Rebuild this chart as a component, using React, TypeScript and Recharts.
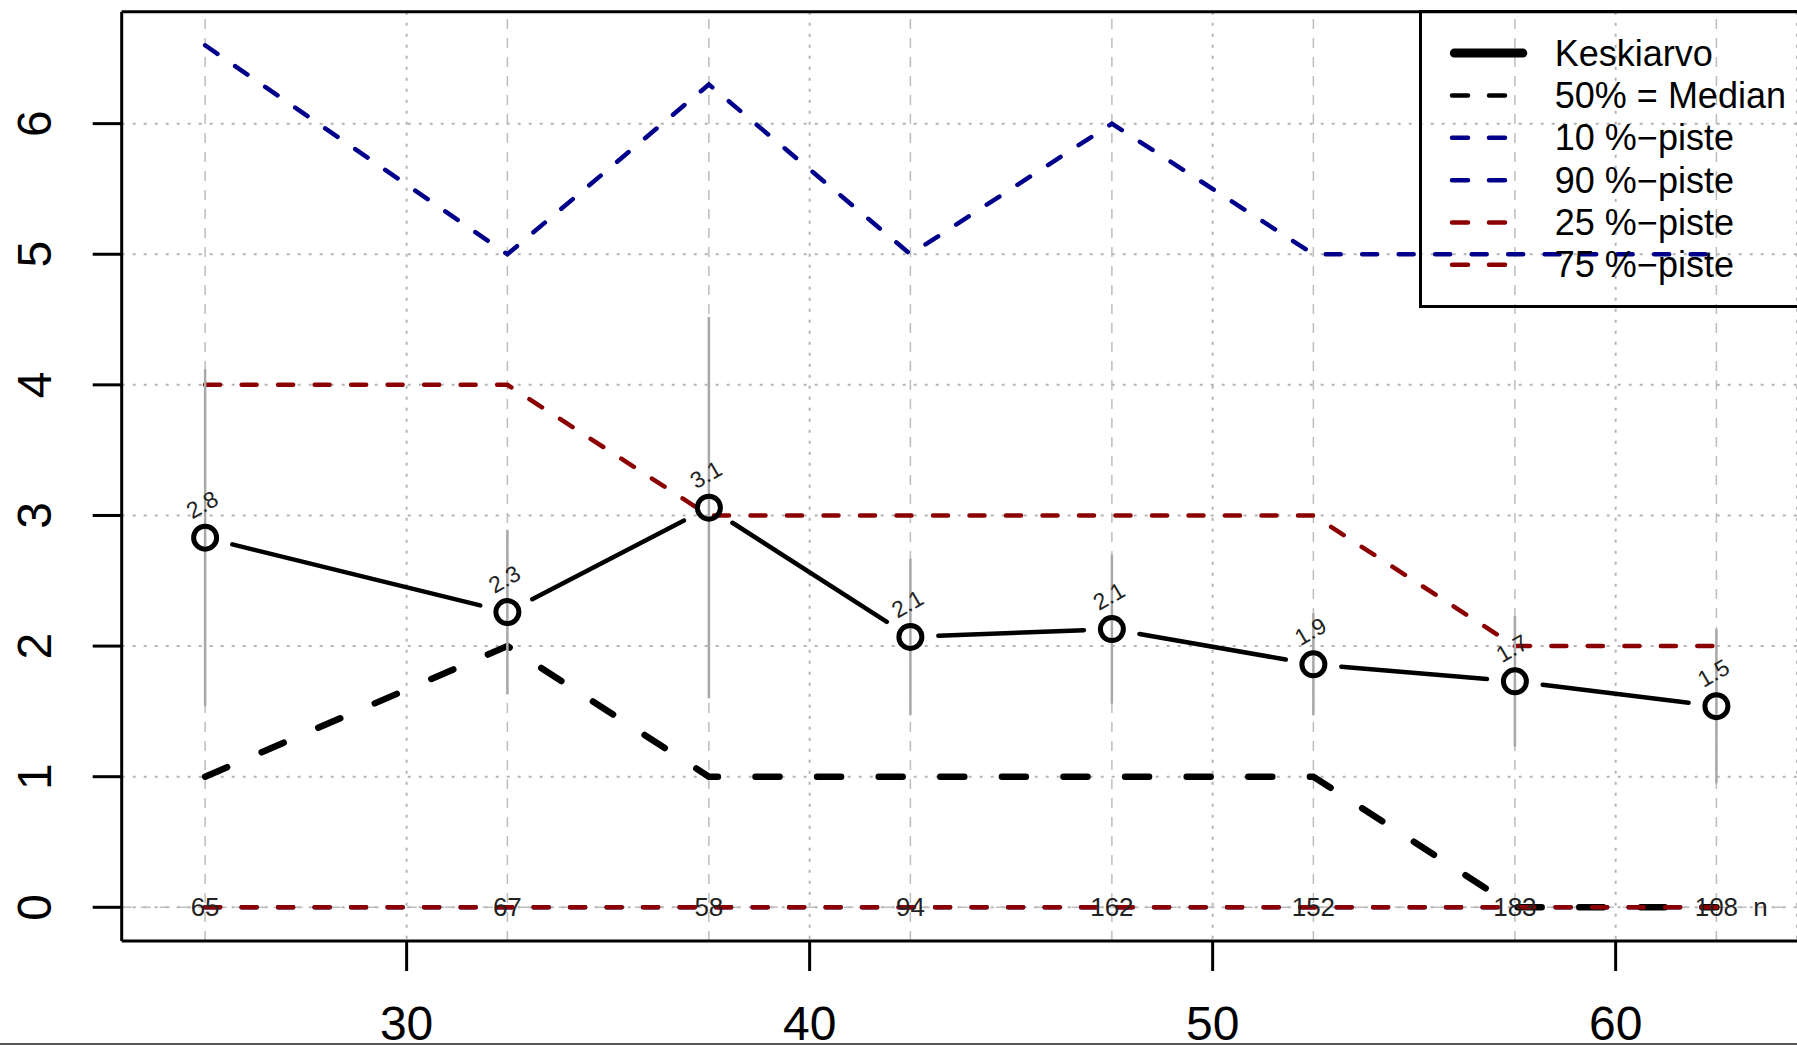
import React from 'react';
import {
    LineChart,
    Line,
    XAxis,
    YAxis,
    CartesianGrid,
    ReferenceLine,
    ErrorBar,
    LabelList,
    Legend,
} from 'recharts';

// ikäryhmien keskikohdat (x)
const ages = [25, 32.5, 37.5, 42.5, 47.5, 52.5, 57.5, 62.5];
const keskiarvo = [2.83, 2.26, 3.06, 2.07, 2.13, 1.86, 1.73, 1.54];
const keskiarvoVirhe = [1.29, 0.63, 1.46, 0.6, 0.57, 0.39, 0.5, 0.59];
const mediaani = [1, 2, 1, 1, 1, 1, 0, 0];
const piste10 = [0, 0, 0, 0, 0, 0, 0, 0];
const piste90 = [6.6, 5, 6.3, 5, 6, 5, 5, 5];
const piste25 = [0, 0, 0, 0, 0, 0, 0, 0];
const piste75 = [4, 4, 3, 3, 3, 3, 2, 2];
const nCounts = [65, 67, 58, 94, 162, 152, 183, 108];

const xTicks = [30, 40, 50, 60];
const yTicks = [0, 1, 2, 3, 4, 5, 6];
const xDomain: [number, number] = [22.93, 64.5];
const yDomain: [number, number] = [-0.258, 6.857];

const NAVY = '#00008B';
const DARKRED = '#8B0000';
const FONT = '"Liberation Sans", Arial, sans-serif';

const legendItems = [
    { label: 'Keskiarvo', color: '#000', width: 9, dashed: false },
    { label: '50% = Median', color: '#000', width: 4.5, dashed: true },
    { label: '10 %\u2212piste', color: NAVY, width: 4.5, dashed: true },
    { label: '90 %\u2212piste', color: NAVY, width: 4.5, dashed: true },
    { label: '25 %\u2212piste', color: DARKRED, width: 4.5, dashed: true },
    { label: '75 %\u2212piste', color: DARKRED, width: 4.5, dashed: true },
];

const rows = ages.map((age, i) => ({
    age,
    mean: keskiarvo[i],
    err: keskiarvoVirhe[i],
    median: mediaani[i],
    p10: piste10[i],
    p90: piste90[i],
    p25: piste25[i],
    p75: piste75[i],
    n: nCounts[i],
}));

// R type="b": circle + line segments that stop short of the points
const MeanDot = (props: any) => {
    const { cx, cy, index, points, payload } = props;
    const next = points ? points[index + 1] : null;
    let seg = null;
    if (next) {
        const dx = next.x - cx;
        const dy = next.y - cy;
        const len = Math.hypot(dx, dy);
        const gap = 28;
        if (len > gap * 2) {
            seg = (
                <line
                    x1={cx + (dx / len) * gap}
                    y1={cy + (dy / len) * gap}
                    x2={next.x - (dx / len) * gap}
                    y2={next.y - (dy / len) * gap}
                    stroke="#000"
                    strokeWidth={4.5}
                    strokeLinecap="round"
                />
            );
        }
    }
    const lx = cx - 3;
    const ly = cy - 33;
    return (
        <g key={`mean-dot-${index}`}>
            {seg}
            <circle cx={cx} cy={cy} r={11.5} fill="none" stroke="#000" strokeWidth={5} />
            <text
                x={lx}
                y={ly}
                transform={`rotate(-30 ${lx} ${ly})`}
                textAnchor="middle"
                dominantBaseline="central"
                fontSize={23}
                fontFamily={FONT}
                fill="#222"
            >
                {Number(payload.mean).toFixed(1)}
            </text>
        </g>
    );
};

const NLabel = (props: any) => {
    const { x, y, value, index } = props;
    return (
        <g key={`n-${index}`}>
            <text x={x} y={y} textAnchor="middle" dominantBaseline="central" fontSize={26} fontFamily={FONT} fill="#222">
                {value}
            </text>
            {index === nCounts.length - 1 && (
                <text x={x + 44} y={y} textAnchor="middle" dominantBaseline="central" fontSize={26} fontFamily={FONT} fill="#222">
                    n
                </text>
            )}
        </g>
    );
};

const XTick = ({ x, y, payload }: any) => (
    <text x={x} y={y} dy={69} textAnchor="middle" fontSize={48} fontFamily={FONT} fill="#000">
        {payload.value}
    </text>
);

const YTick = ({ x, y, payload }: any) => {
    const tx = x - 58;
    return (
        <text
            x={tx}
            y={y}
            transform={`rotate(-90 ${tx} ${y})`}
            textAnchor="middle"
            dominantBaseline="central"
            fontSize={48}
            fontFamily={FONT}
            fill="#000"
        >
            {payload.value}
        </text>
    );
};

const renderLegend = () => (
    <svg width={420} height={300} style={{ display: 'block' }}>
        <rect x={1.5} y={1.5} width={500} height={295} fill="none" stroke="#000" strokeWidth={3} />
        {legendItems.map((item, i) => {
            const yy = 43.1 + i * 42.35;
            return (
                <g key={item.label}>
                    {item.dashed ? (
                        <line x1={33} y1={yy} x2={100} y2={yy} stroke={item.color} strokeWidth={item.width}
                            strokeDasharray="16 21" strokeLinecap="round" />
                    ) : (
                        <line x1={35.3} y1={yy} x2={103.8} y2={yy} stroke={item.color} strokeWidth={item.width}
                            strokeLinecap="round" />
                    )}
                    <text x={135.8} y={yy + 12.5} fontSize={36} fontFamily={FONT} fill="#000">
                        {item.label}
                    </text>
                </g>
            );
        })}
    </svg>
);

export default function App() {
    return (
        <div style={{ position: 'absolute', left: 0, top: 0, width: 1797, height: 1045, overflow: 'hidden', background: '#fff' }}>
            <LineChart width={1797} height={1045} data={rows} margin={{ top: 11.7, right: 0, bottom: 0, left: 0 }}>
                <CartesianGrid stroke="#b4b4b4" strokeWidth={2} strokeDasharray="3 8" />
                {ages.map((a) => (
                    <ReferenceLine key={`vx-${a}`} x={a} stroke="#bdbdbd" strokeWidth={1.5} strokeDasharray="10 9" />
                ))}
                <ReferenceLine y={0} stroke="#bdbdbd" strokeWidth={1.5} strokeDasharray="10 9" />
                <ReferenceLine y={yDomain[1]} stroke="#000" strokeWidth={3} />
                <XAxis
                    type="number"
                    dataKey="age"
                    domain={xDomain}
                    allowDataOverflow
                    ticks={xTicks}
                    height={104}
                    tickSize={30}
                    tickMargin={0}
                    axisLine={{ stroke: '#000', strokeWidth: 3 }}
                    tickLine={{ stroke: '#000', strokeWidth: 3 }}
                    tick={<XTick />}
                />
                <YAxis
                    type="number"
                    domain={yDomain}
                    allowDataOverflow
                    ticks={yTicks}
                    width={121.7}
                    tickSize={29}
                    tickMargin={0}
                    axisLine={{ stroke: '#000', strokeWidth: 3 }}
                    tickLine={{ stroke: '#000', strokeWidth: 3 }}
                    tick={<YTick />}
                />
                <Legend
                    layout="vertical"
                    align="center"
                    verticalAlign="middle"
                    content={renderLegend}
                    wrapperStyle={{ position: 'absolute', left: 1419.2, top: 10.2, width: 420, height: 300, bottom: 'auto', right: 'auto' }}
                />
                <Line dataKey="p10" stroke={NAVY} strokeWidth={4.5} strokeDasharray="15 21.5" strokeLinecap="round"
                    dot={false} activeDot={false} isAnimationActive={false} legendType="none">
                    <LabelList dataKey="n" content={NLabel} />
                </Line>
                <Line dataKey="p90" stroke={NAVY} strokeWidth={4.5} strokeDasharray="15 21.5" strokeLinecap="round"
                    dot={false} activeDot={false} isAnimationActive={false} />
                <Line dataKey="median" stroke="#000" strokeWidth={6.5} strokeDasharray="24 37.6" strokeLinecap="round"
                    dot={false} activeDot={false} isAnimationActive={false} />
                <Line dataKey="p25" stroke={DARKRED} strokeWidth={4.5} strokeDasharray="15 21.5" strokeLinecap="round"
                    dot={false} activeDot={false} isAnimationActive={false} />
                <Line dataKey="p75" stroke={DARKRED} strokeWidth={4.5} strokeDasharray="15 21.5" strokeLinecap="round"
                    dot={false} activeDot={false} isAnimationActive={false} />
                <Line dataKey="mean" stroke="none" dot={MeanDot} activeDot={false} isAnimationActive={false}>
                    <ErrorBar dataKey="err" width={0} stroke="#a8a8a8" strokeWidth={2.5} direction="y" isAnimationActive={false} />
                </Line>
            </LineChart>
            <div style={{ position: 'absolute', left: 0, top: 1043, width: 1797, height: 2, background: '#555' }} />
        </div>
    );
}
